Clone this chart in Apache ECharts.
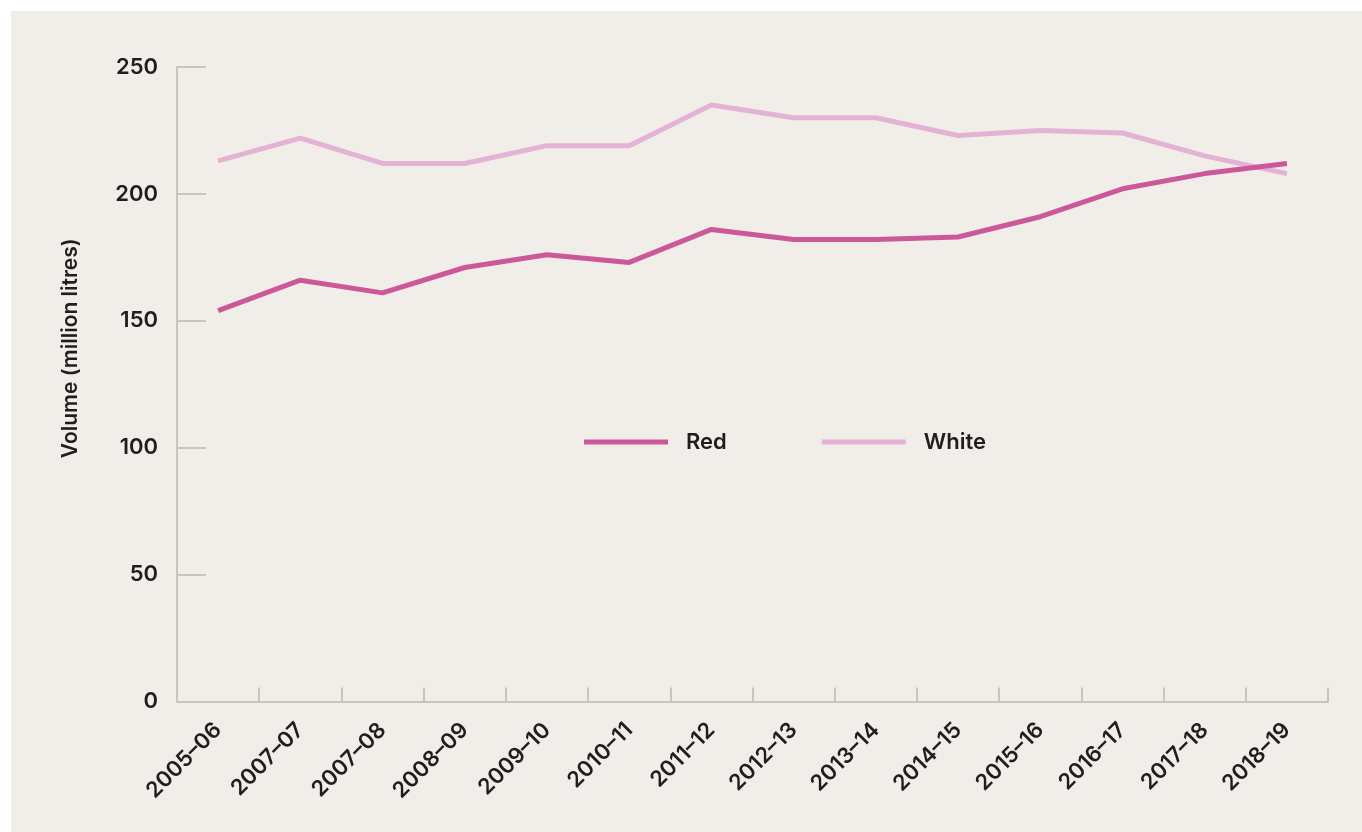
<!DOCTYPE html>
<html>
<head>
<meta charset="utf-8">
<script src="https://cdn.jsdelivr.net/npm/echarts@6/dist/echarts.min.js"></script>
<style>
  html, body { margin: 0; padding: 0; background: #ffffff; }
  #bg { position: absolute; left: 11px; top: 11px; width: 1351px; height: 821px; background: #f1eeea; }
  #chart { position: absolute; left: 0; top: 0; width: 1362px; height: 832px; }
</style>
</head>
<body>
<div id="bg"></div>
<div id="chart"></div>
<script>
const categories = ['2005\u201306','2007\u201307','2007\u201308','2008\u201309','2009\u201310','2010\u201311','2011\u201312','2012\u201313','2013\u201314','2014\u201315','2015\u201316','2016\u201317','2017\u201318','2018\u201319'];
const redValues = [154, 166, 161, 171, 176, 173, 186, 182, 182, 183, 191, 202, 208, 212];
const whiteValues = [213, 222, 212, 212, 219, 219, 235, 230, 230, 223, 225, 224, 215, 208];
const yAxisName = 'Volume (million litres)';
const seriesNames = ['Red', 'White'];

const FONT = 'Inter, "Noto Sans", sans-serif';
const TEXT = '#1e1e1e';
const AXIS = '#ccc4b6';
const RED = '#cc5799';
const WHITE = '#e4b2d4';

const chart = echarts.init(document.getElementById('chart'), null, { renderer: 'canvas' });
chart.setOption({
  backgroundColor: 'transparent',
  animation: false,
  textStyle: { fontFamily: FONT, color: TEXT },
  grid: { left: 177, right: 34, top: 67, bottom: 130.5, containLabel: false },
  legend: {
    data: seriesNames,
    left: 579,
    top: 426,
    icon: 'rect',
    itemWidth: 84,
    itemHeight: 5,
    itemGap: 95,
    textStyle: { fontFamily: FONT, fontSize: 22, fontWeight: 600, color: TEXT, padding: [0, 0, 0, 13] }
  },
  xAxis: {
    type: 'category',
    data: categories,
    boundaryGap: true,
    axisLine: { show: true, lineStyle: { color: AXIS, width: 2 } },
    axisTick: { show: true, inside: true, length: 14, alignWithLabel: false, lineStyle: { color: AXIS, width: 2 } },
    axisLabel: { interval: 0, rotate: 45, fontSize: 22, fontWeight: 600, color: TEXT, fontFamily: FONT, margin: 25 },
    splitLine: { show: false }
  },
  yAxis: {
    type: 'value',
    min: 0,
    max: 250,
    interval: 50,
    name: yAxisName,
    nameLocation: 'middle',
    nameGap: 96,
    nameRotate: 90,
    nameTextStyle: { fontSize: 21, fontWeight: 600, color: TEXT, fontFamily: FONT, padding: [0, 0, 0, 72] },
    axisLine: { show: true, lineStyle: { color: AXIS, width: 2 } },
    axisTick: { show: true, inside: true, length: 29, lineStyle: { color: AXIS, width: 2 } },
    axisLabel: { fontSize: 22, fontWeight: 600, color: TEXT, fontFamily: FONT, margin: 19, padding: [0, 0, 10, 0] },
    splitLine: { show: false }
  },
  series: [
    {
      name: 'White', type: 'line', data: whiteValues, showSymbol: false, symbol: 'none',
      lineStyle: { color: WHITE, width: 5 }, itemStyle: { color: WHITE }, z: 2
    },
    {
      name: 'Red', type: 'line', data: redValues, showSymbol: false, symbol: 'none',
      lineStyle: { color: RED, width: 5 }, itemStyle: { color: RED }, z: 3
    }
  ]
});
</script>
</body>
</html>
